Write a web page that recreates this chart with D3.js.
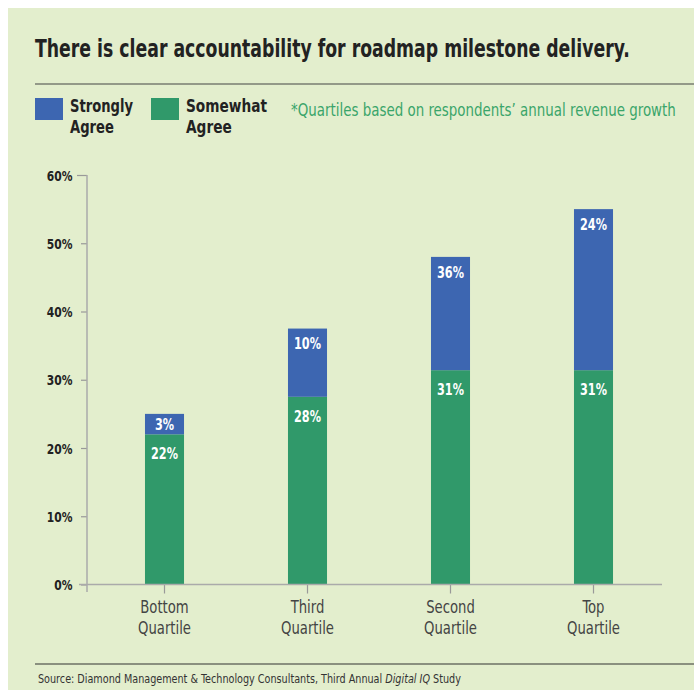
<!DOCTYPE html>
<html><head><meta charset="utf-8">
<script src="https://cdn.jsdelivr.net/npm/d3@7"></script>
<style>
html,body{margin:0;padding:0;background:#fff;}
svg{display:block;}
text{font-family:"Liberation Sans Narrow","DejaVu Sans Condensed","Roboto Condensed","DejaVu Sans",sans-serif;}
</style></head>
<body>
<svg id="chart" width="694" height="690"></svg>
<script>
const categories = [["Bottom","Quartile"],["Third","Quartile"],["Second","Quartile"],["Top","Quartile"]];
const somewhatAgree = [22, 27.5, 31.4, 31.4];
const stronglyAgree = [3, 10, 16.6, 23.6];
const somewhatLabels = ["22%","28%","31%","31%"];
const stronglyLabels = ["3%","10%","36%","24%"];
const yTicks = [0,10,20,30,40,50,60];
const seriesNames = [["Strongly","Agree"],["Somewhat","Agree"]];

const BLUE = "#3d66b1", GREEN = "#30996a", BG = "#e3eecd";
const svg = d3.select("#chart");

// horizontally condense a text element about its x anchor by a factor
function squeezeBy(sel, s){
  sel.each(function(){
    const x = +this.getAttribute("x") || 0;
    this.setAttribute("transform", `translate(${x},0) scale(${s},1) translate(${-x},0)`);
  });
}
function squeezeTo(sel, target){
  const w = sel.node().getBBox().width;
  squeezeBy(sel, target / w);
  return target / w;
}

svg.append("rect").attr("x",8).attr("y",8).attr("width",686).attr("height",682).attr("fill",BG);

const title = svg.append("text").attr("x",35).attr("y",57).attr("font-size",24).attr("font-weight","bold").attr("fill","#222")
  .text("There is clear accountability for roadmap milestone delivery.");
squeezeTo(title, 595);
svg.append("line").attr("x1",35).attr("x2",694).attr("y1",84).attr("y2",84).attr("stroke","#444").attr("stroke-width",1.2);

// legend
const leg = [{c:BLUE,x:35,w:63},{c:GREEN,x:151,w:81}];
leg.forEach((l,i)=>{
  svg.append("rect").attr("x",l.x).attr("y",98).attr("width",28).attr("height",22).attr("fill",l.c);
  const t = svg.append("text").attr("x",l.x+35).attr("y",112).attr("font-size",17).attr("font-weight","bold").attr("fill","#222");
  seriesNames[i].forEach((s,j)=>t.append("tspan").attr("x",l.x+35).attr("dy",j?21:0).text(s));
  const w0 = t.select("tspan").node().getComputedTextLength();
  squeezeBy(t, l.w / w0);
});
const note = svg.append("text").attr("x",291).attr("y",116).attr("font-size",17).attr("fill","#3aa56a")
  .text("*Quartiles based on respondents\u2019 annual revenue growth");
squeezeTo(note, 385);

const y = d3.scaleLinear().domain([0,60]).range([584.5,175]);
const x = d3.scaleBand().domain(d3.range(categories.length)).range([93,665]).paddingInner(0.727).paddingOuter(0.3635);

// y axis
const ya = svg.append("g").attr("transform","translate(87,0)")
  .call(d3.axisLeft(y).tickValues(yTicks).tickFormat(d=>d+"%").tickSize(6).tickPadding(8));
ya.select(".domain").remove();
ya.selectAll(".tick line").attr("stroke","#999").attr("stroke-width",1.2).attr("x2",d=>d===60?-10:-6);
ya.selectAll(".tick text").attr("font-size",14).attr("font-weight","bold").attr("fill","#222").attr("dy","0.36em").attr("x",-14.5);
const t60 = ya.selectAll(".tick text").filter(d=>d===60).node().getBBox().width;
squeezeBy(ya.selectAll(".tick text"), 26 / t60);
svg.append("line").attr("x1",87).attr("x2",87).attr("y1",175).attr("y2",592).attr("stroke","#aaa").attr("stroke-width",1.5);

// bars
const g = svg.append("g");
let labelScale = null;
categories.forEach((c,i)=>{
  const bx = x(i), bw = x.bandwidth();
  const g0 = y(somewhatAgree[i]);
  g.append("rect").attr("x",bx).attr("width",bw).attr("y",g0).attr("height",y(0)-g0).attr("fill",GREEN);
  const b0 = y(somewhatAgree[i]+stronglyAgree[i]);
  g.append("rect").attr("x",bx).attr("width",bw).attr("y",b0).attr("height",g0-b0).attr("fill",BLUE);
  const bh = g0-b0;
  g.append("text").attr("class","vl").attr("x",bx+bw/2).attr("y",b0+Math.min(bh/2,15)).attr("dy","0.36em").attr("text-anchor","middle")
    .attr("font-size",16).attr("font-weight","bold").attr("fill","#fff").text(stronglyLabels[i]);
  g.append("text").attr("class","vl").attr("x",bx+bw/2).attr("y",g0+19).attr("dy","0.36em").attr("text-anchor","middle")
    .attr("font-size",16).attr("font-weight","bold").attr("fill","#fff").text(somewhatLabels[i]);
});
const vl = g.selectAll("text.vl");
const w36 = vl.filter(function(){return this.textContent==="36%";}).node().getBBox().width;
squeezeBy(vl, 27 / w36);

// x axis
const xa = svg.append("g").attr("transform","translate(0,584.5)")
  .call(d3.axisBottom(x).tickSize(9).tickFormat(""));
xa.select(".domain").remove();
xa.selectAll(".tick line").attr("stroke","#999").attr("stroke-width",1.2);
svg.append("line").attr("x1",79).attr("x2",662).attr("y1",584.5).attr("y2",584.5).attr("stroke","#aaa").attr("stroke-width",1.5);
categories.forEach((c,i)=>{
  const cx = x(i)+x.bandwidth()/2;
  const t = svg.append("text").attr("x",cx).attr("y",613).attr("text-anchor","middle")
    .attr("font-size",17.5).attr("fill","#444");
  c.forEach((s,j)=>t.append("tspan").attr("x",cx).attr("dy",j?21:0).text(s));
  const wq = t.selectAll("tspan").filter((d,j)=>j===1).node().getComputedTextLength();
  squeezeBy(t, 53 / wq);
});

// footer
svg.append("line").attr("x1",35).attr("x2",694).attr("y1",664).attr("y2",664).attr("stroke","#333").attr("stroke-width",1.2);
const src = svg.append("text").attr("x",38).attr("y",683).attr("font-size",12.5).attr("fill","#333");
src.append("tspan").text("Source: Diamond Management & Technology Consultants, Third Annual ");
src.append("tspan").attr("font-style","italic").text("Digital IQ");
src.append("tspan").text(" Study");
squeezeTo(src, 424);
</script>
</body></html>
